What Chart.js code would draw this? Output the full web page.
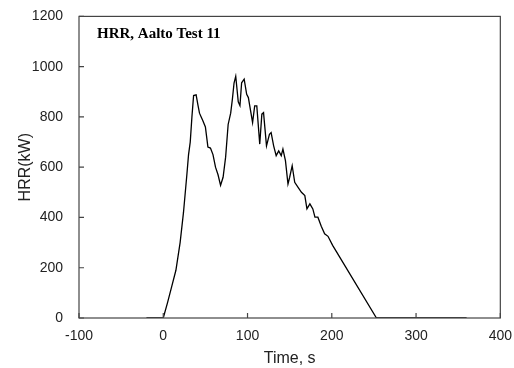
<!DOCTYPE html>
<html>
<head>
<meta charset="utf-8">
<script src="https://cdn.jsdelivr.net/npm/chart.js@4"></script>
<style>
  html, body { margin: 0; padding: 0; background: #fff; }
  #wrap { width: 514px; height: 368px; }
</style>
</head>
<body>
<div id="wrap"><canvas id="myChart" width="514" height="368"></canvas></div>
<script>
const tiempos = [-20, 0, 5, 10, 15, 20, 24, 28, 30, 32, 34, 36, 39, 41, 43, 45, 47, 50, 53, 56, 59, 62, 65, 68, 71, 74, 77, 80, 82, 84, 86, 89, 91, 93, 96, 99, 101, 103, 106, 108.5, 111, 114.5, 117, 119, 122.5, 126, 128, 131, 134, 137, 140, 142, 145, 148, 150, 153, 156, 160, 164, 168, 170.5, 174, 177.5, 180, 183.5, 187.5, 191.5, 195.5, 201, 253, 360];
const hrr = [0, 0, 60, 125, 190, 300, 420, 570, 650, 700, 800, 885, 888, 850, 815, 800, 785, 760, 680, 676, 650, 600, 570, 528, 560, 640, 770, 815, 870, 935, 962, 860, 845, 936, 950, 890, 877, 837, 778, 844, 844, 692, 811, 817, 685, 731, 738, 685, 646, 665, 646, 672, 626, 533, 560, 606, 540, 520, 500, 487, 434, 454, 434, 401, 401, 365, 335, 325, 289, 0, 0];
const ticksX = [-100, 0, 100, 200, 300, 400];
const ticksY = [0, 200, 400, 600, 800, 1000, 1200];
const titulo = "HRR, Aalto Test 11";

const puntos = tiempos.map((t, i) => ({ x: t, y: hrr[i] }));

// marco tipo matlab: caja + ticks hacia dentro + titulo
const marco = {
  id: "marco",
  afterDraw(chart) {
    const c = chart.ctx;
    const a = chart.chartArea;
    const sx = chart.scales.x;
    const sy = chart.scales.y;
    c.save();
    c.strokeStyle = "#444";
    c.lineWidth = 1.2;
    c.strokeRect(a.left, a.top, a.right - a.left, a.bottom - a.top);
    c.beginPath();
    ticksX.forEach((v) => {
      const px = sx.getPixelForValue(v);
      c.moveTo(px, a.bottom);
      c.lineTo(px, a.bottom - 5);
    });
    ticksY.forEach((v) => {
      const py = sy.getPixelForValue(v);
      c.moveTo(a.left, py);
      c.lineTo(a.left + 5, py);
    });
    c.stroke();
    c.fillStyle = "#000";
    c.font = "bold 15px 'Liberation Serif', 'Times New Roman', serif";
    c.textBaseline = "middle";
    c.fillText(titulo, a.left + 18, a.top + 18);
    c.restore();
  },
};

const ctx = document.getElementById("myChart").getContext("2d");
let chart = new Chart(ctx, {
  type: "scatter",
  data: {
    datasets: [
      {
        data: puntos,
        showLine: true,
        borderColor: "black",
        borderWidth: 1.3,
        pointRadius: 0,
        tension: 0,
      },
    ],
  },
  options: {
    responsive: false,
    animation: false,
    layout: { padding: { top: 15, right: 13, left: 0, bottom: 0 } },
    plugins: { legend: { display: false }, tooltip: { enabled: false } },
    scales: {
      x: {
        type: "linear",
        min: -100,
        max: 400,
        afterBuildTicks: (s) => { s.ticks = ticksX.map((v) => ({ value: v })); },
        afterFit: (s) => { s.height = 50; },
        grid: { display: false },
        border: { display: false },
        ticks: {
          autoSkip: false,
          maxRotation: 0,
          padding: 2,
          color: "#222",
          callback: (v) => String(v),
          font: { family: "'Liberation Sans', Arial, sans-serif", size: 14 },
        },
        title: {
          display: true,
          text: "Time, s",
          color: "#222",
          padding: { top: 0, bottom: 0 },
          font: { family: "'Liberation Sans', Arial, sans-serif", size: 16 },
        },
      },
      y: {
        min: 0,
        max: 1200,
        afterBuildTicks: (s) => { s.ticks = ticksY.map((v) => ({ value: v })); },
        afterFit: (s) => { s.width = 79; },
        grid: { display: false },
        border: { display: false },
        ticks: {
          padding: 8,
          color: "#222",
          callback: (v) => String(v),
          font: { family: "'Liberation Sans', Arial, sans-serif", size: 14 },
        },
        title: {
          display: true,
          text: "HRR(kW)",
          color: "#222",
          padding: { top: 16, bottom: 0 },
          font: { family: "'Liberation Sans', Arial, sans-serif", size: 16 },
        },
      },
    },
  },
  plugins: [marco],
});
</script>
</body>
</html>
